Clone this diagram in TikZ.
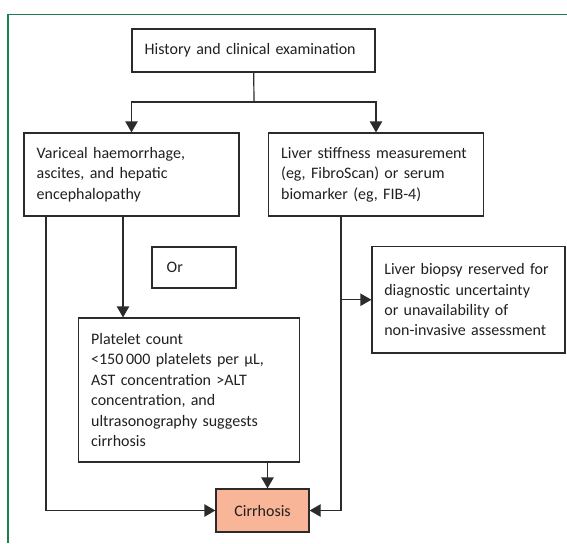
\documentclass[tikz,border=0pt]{standalone}
\usepackage{fontspec}
\setmainfont{Carlito}
\usetikzlibrary{arrows.meta,positioning}
\definecolor{lcframe}{HTML}{1A8050}
\definecolor{lcline}{HTML}{2B2B2B}
\definecolor{lctext}{HTML}{231F20}
\definecolor{lcsalmon}{HTML}{F8B598}

\begin{document}
\begin{tikzpicture}[x=0.75pt, y=-0.75pt,
    every node/.style={font=\fontsize{12}{15.3}\selectfont, text=lctext},
    box/.style={draw=lcline, line width=0.9pt, rectangle, align=left, inner xsep=9.5pt, inner ysep=0pt},
    arr/.style={draw=lcline, line width=0.9pt, -{Triangle[length=8.25pt, width=9.25pt]}},
    ln/.style={draw=lcline, line width=0.9pt}]
      \useasboundingbox (0,0) rectangle (567,543);
      % frame
      \draw[lcframe, line width=1.2pt] (8,543) -- (8,14.5) -- (567,14.5);
      % boxes
      \node[box, minimum width=182.25pt, minimum height=32.25pt, text width=163.25pt] (hist) at (253.5,50.5) {History and clinical examination};
      \node[box, minimum width=161.25pt, minimum height=62.25pt, text width=142.25pt] (varic) at (131.5,174.5) {Variceal haemorrhage,\\ascites, and hepatic\\encephalopathy};
      \node[box, minimum width=161.25pt, minimum height=62.25pt, text width=142.25pt] (liver) at (376,174.5) {Liver stiffness measurement\\(eg, FibroScan) or serum\\biomarker (eg, FIB-4)};
      \node[box, minimum width=63pt, minimum height=30.75pt, text width=41pt, inner xsep=11pt] (orbox) at (194,267.5) {Or};
      \node[box, minimum width=165.75pt, minimum height=108pt, text width=146.75pt] (plat) at (189,390) {Platelet count\\<150\,000 platelets per µL,\\AST concentration >ALT\\concentration, and\\ultrasonography suggests\\cirrhosis};
      \node[box, minimum width=144.75pt, minimum height=79.9pt, text width=126.25pt, inner xsep=9.25pt] (biop) at (468.5,299.75) {Liver biopsy reserved for\\diagnostic uncertainty\\or unavailability of\\non-invasive assessment};
      \node[box, fill=lcsalmon, minimum width=69.75pt, minimum height=32.25pt, align=center] (cirr) at (262.5,510.5) {Cirrhosis};
      % connectors
      \coordinate (split) at (254,102);
      \coordinate (lft) at (46,216);
      \coordinate (vdown) at (123,216);
      \coordinate (rdown) at (341,216);
      \coordinate (pdown) at (267.5,462);
      \draw[ln] (hist) -- (split);
      \draw[arr] (split) -| (varic);
      \draw[arr] (split) -| (liver);
      \draw[arr] (lft) |- (cirr);
      \draw[arr] (vdown) -- (vdown |- plat.north);
      \draw[arr] (rdown) |- (cirr);
      \draw[arr] (rdown |- biop.west) -- (biop);
      \draw[arr] (pdown) -- (pdown |- cirr.north);
    \end{tikzpicture}
\end{document}
